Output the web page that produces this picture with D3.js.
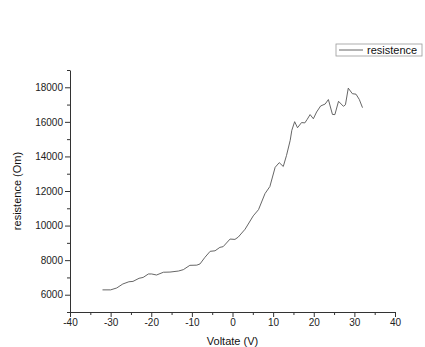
<!DOCTYPE html>
<html>
<head>
<meta charset="utf-8">
<script src="https://cdn.jsdelivr.net/npm/d3@7"></script>
<style>
  body { margin: 0; background: #fff; }
  svg { display: block; font-family: "Liberation Sans", Arial, sans-serif; }
</style>
</head>
<body>
<div id="chart"></div>
<script>
// Values
const voltage = [-32, -30, -28.5, -27, -25.5, -24.5, -23, -22, -20.7, -19.9, -18.7, -17, -15.4, -13.3, -12.1,
  -10.5, -8.8, -8, -6.8, -5.5, -4.3, -3.1, -2.3, -0.6, 0.6, 1.4, 3.1, 5.1, 6.4, 8, 9.2, 10.5, 11.5, 12.5,
  13.3, 14.2, 14.6, 15.3, 16, 17, 17.8, 18.4, 19.1, 19.9, 20.7, 21.7, 22.8, 23.6, 24.6, 25.2, 26.1, 27.3,
  27.8, 28.5, 29.5, 30.4, 31.2, 32]
const resistence = [6280, 6280, 6390, 6620, 6750, 6770, 6950, 7000, 7200, 7200, 7140, 7300, 7310, 7370, 7450,
  7700, 7710, 7780, 8160, 8510, 8540, 8740, 8780, 9220, 9200, 9330, 9790, 10560, 10920, 11850, 12260, 13370,
  13640, 13420, 14060, 14930, 15510, 16010, 15660, 15960, 15940, 16150, 16420, 16180, 16570, 16920, 17030,
  17290, 16430, 16420, 17190, 16900, 16990, 17950, 17630, 17600, 17300, 16820]

const xMajorTicks = [-40, -30, -20, -10, 0, 10, 20, 30, 40]
const xMinorTicks = [-35, -25, -15, -5, 5, 15, 25, 35]
const yMajorTicks = [6000, 8000, 10000, 12000, 14000, 16000, 18000]
const yMinorTicks = [5000, 7000, 9000, 11000, 13000, 15000, 17000, 19000]

const seriesName = 'resistence'
const xTitle = 'Voltate (V)'
const yTitle = 'resistence (Om)'

const data = voltage.map((v, i) => ({ v, r: resistence[i] }))

const width = 425, height = 347
const margin = { top: 70, right: 30, bottom: 35, left: 70 }

const x = d3.scaleLinear().domain([-40, 40]).range([margin.left, width - margin.right])
const y = d3.scaleLinear().domain([5000, 19000]).range([height - margin.bottom, margin.top])

// plain numbers, ascii hyphen for negatives, no thousands separator
const plain = d => String(d)

const svg = d3.select('#chart')
  .append('svg')
  .attr('width', width)
  .attr('height', height)

const axisColor = '#333'

// X axis: major ticks with labels, then minor ticks
svg.append('g')
  .attr('transform', `translate(0,${y(5000)})`)
  .call(d3.axisBottom(x).tickValues(xMajorTicks).tickSize(5).tickPadding(2).tickSizeOuter(0).tickFormat(plain))
  .call(g => g.selectAll('.tick text').attr('font-size', 10).attr('fill', '#222'))
  .call(g => g.selectAll('line, path').attr('stroke', axisColor))
svg.append('g')
  .attr('transform', `translate(0,${y(5000)})`)
  .call(d3.axisBottom(x).tickValues(xMinorTicks).tickSize(3).tickFormat('').tickSizeOuter(0))
  .call(g => g.select('.domain').remove())
  .call(g => g.selectAll('line').attr('stroke', axisColor))

// Y axis
svg.append('g')
  .attr('transform', `translate(${x(-40)},0)`)
  .call(d3.axisLeft(y).tickValues(yMajorTicks).tickSize(5).tickPadding(2).tickSizeOuter(0).tickFormat(plain))
  .call(g => g.selectAll('.tick text').attr('font-size', 10).attr('fill', '#222'))
  .call(g => g.selectAll('line, path').attr('stroke', axisColor))
svg.append('g')
  .attr('transform', `translate(${x(-40)},0)`)
  .call(d3.axisLeft(y).tickValues(yMinorTicks).tickSize(3).tickFormat('').tickSizeOuter(0))
  .call(g => g.select('.domain').remove())
  .call(g => g.selectAll('line').attr('stroke', axisColor))

// Axis titles
svg.append('text')
  .attr('x', x(0))
  .attr('y', 345)
  .attr('text-anchor', 'middle')
  .attr('font-size', 11)
  .attr('fill', '#111')
  .text(xTitle)

svg.append('text')
  .attr('transform', `translate(21,${y(12000)}) rotate(-90)`)
  .attr('text-anchor', 'middle')
  .attr('font-size', 11)
  .attr('fill', '#111')
  .text(yTitle)

// The resistence line
const line = d3.line()
  .x(d => x(d.v))
  .y(d => y(d.r))

svg.append('path')
  .datum(data)
  .attr('fill', 'none')
  .attr('stroke', '#555')
  .attr('stroke-width', 0.9)
  .attr('d', line)

// Legend
const legend = svg.append('g').attr('transform', 'translate(336,44)')
legend.append('rect')
  .attr('width', 86)
  .attr('height', 12)
  .attr('fill', '#fff')
  .attr('stroke', '#999')
  .attr('stroke-width', 0.8)
legend.append('line')
  .attr('x1', 3)
  .attr('x2', 27)
  .attr('y1', 6)
  .attr('y2', 6)
  .attr('stroke', '#555')
  .attr('stroke-width', 0.9)
legend.append('text')
  .attr('x', 31)
  .attr('y', 10)
  .attr('font-size', 11)
  .attr('fill', '#111')
  .text(seriesName)
</script>
</body>
</html>
